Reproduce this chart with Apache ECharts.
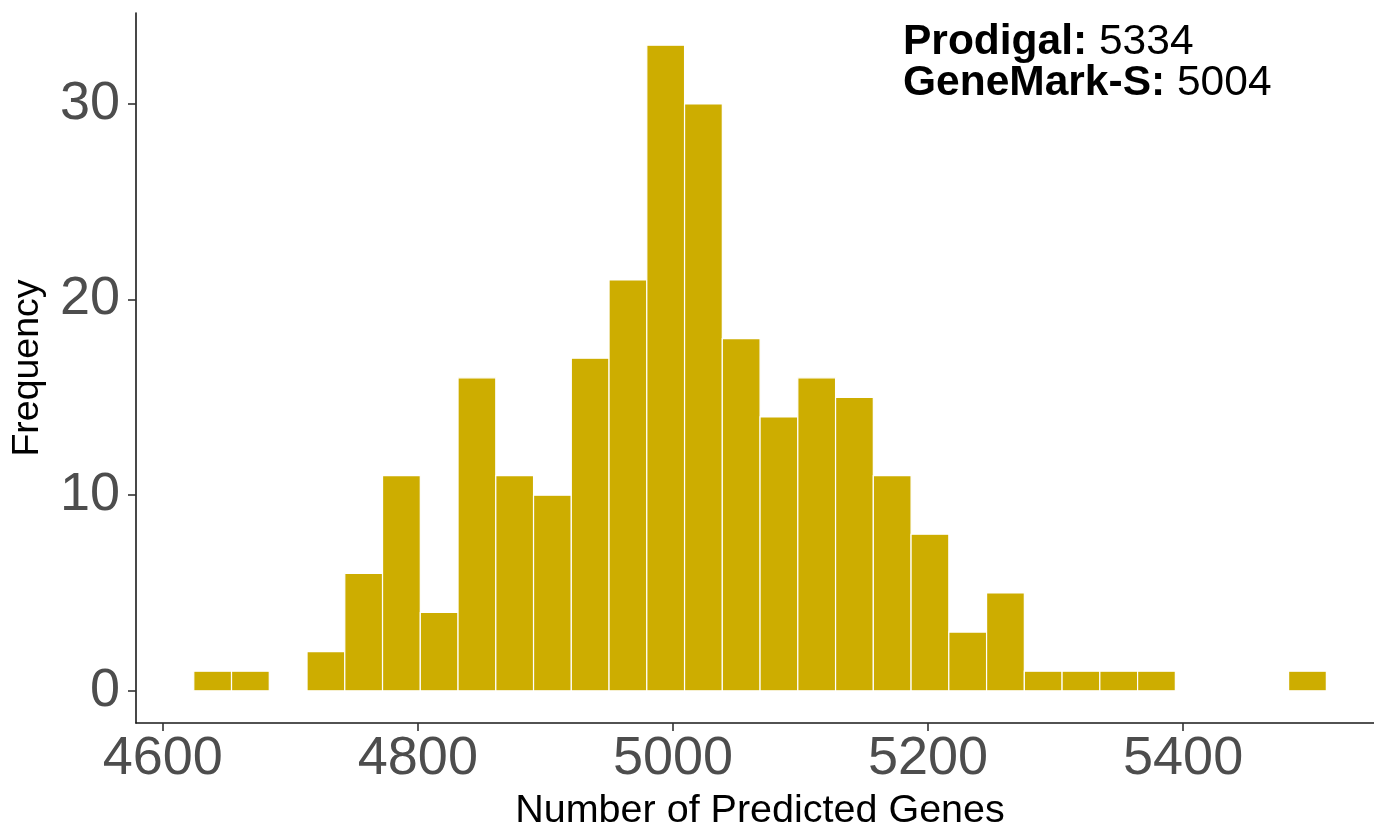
<!DOCTYPE html>
<html>
<head>
<meta charset="utf-8">
<script src="https://cdn.jsdelivr.net/npm/echarts@6/dist/echarts.min.js"></script>
<style>
html,body{margin:0;padding:0;background:#fff;}
#chart{width:1374px;height:828px;}
</style>
</head>
<body>
<div id="chart"></div>
<script>
// Histogram data (30 bins)
const binStart = 4624.3;
const binWidth = 29.6;
const counts = [1, 1, 0, 2, 6, 11, 4, 16, 11, 10, 17, 21, 33, 30, 18, 14, 16, 15, 11, 8, 3, 5, 1, 1, 1, 1, 0, 0, 0, 1];
const xTicks = [4600, 4800, 5000, 5200, 5400];
const yTicks = [0, 10, 20, 30];
const xTitle = 'Number of Predicted Genes';
const yTitle = 'Frequency';
const notes = [['Prodigal:', '5334'], ['GeneMark-S:', '5004']];

const barData = counts.map((c, i) => [binStart + i * binWidth, binStart + (i + 1) * binWidth, c]).filter(d => d[2] > 0);

const chart = echarts.init(document.getElementById('chart'));
const axisLine = {show: true, onZero: false, lineStyle: {color: '#1a1a1a', width: 1.6}};
const font = 'Liberation Sans, Arial, sans-serif';
chart.setOption({
  animation: false,
  backgroundColor: '#fff',
  grid: {left: 136, right: -10, top: 13, bottom: 105, containLabel: false, outerBoundsMode: 'none'},
  xAxis: {
    type: 'value', min: 4579, max: 5557.5,
    axisLine: axisLine,
    axisTick: {show: true, length: 8, lineStyle: {color: '#333', width: 1.6}, customValues: xTicks},
    axisLabel: {customValues: xTicks, formatter: v => String(v), fontFamily: font, fontSize: 54, color: '#4d4d4d', margin: 9},
    splitLine: {show: false},
    name: xTitle, nameLocation: 'middle', nameGap: 67,
    nameTextStyle: {fontFamily: font, fontSize: 39.5, color: '#000'}
  },
  yAxis: {
    type: 'value', min: -1.65, max: 34.65,
    axisLine: axisLine,
    axisTick: {show: true, length: 8, lineStyle: {color: '#333', width: 1.6}, customValues: yTicks},
    axisLabel: {customValues: yTicks, formatter: v => String(v), fontFamily: font, fontSize: 54, color: '#4d4d4d', margin: 16},
    splitLine: {show: false},
    name: yTitle, nameLocation: 'middle', nameGap: 89, nameRotate: 90,
    nameTextStyle: {fontFamily: font, fontSize: 37.5, color: '#000'}
  },
  series: [{
    type: 'custom',
    data: barData,
    encode: {x: [0, 1], y: 2},
    renderItem: function (params, api) {
      const p0 = api.coord([api.value(0), api.value(2)]);
      const p1 = api.coord([api.value(1), 0]);
      return {
        type: 'rect',
        shape: {x: p0[0], y: p0[1], width: p1[0] - p0[0], height: p1[1] - p0[1]},
        style: {fill: '#CDAD00', stroke: '#ffffff', lineWidth: 1.2}
      };
    }
  }],
  graphic: [{
    type: 'text', left: 903, top: 21,
    style: {
      text: notes.map(n => '{b|' + n[0] + '}{r|\u00a0' + n[1] + '}').join('\n'),
      rich: {
        b: {fontFamily: font, fontWeight: 'bold', fontSize: 42.5, lineHeight: 41, fill: '#000'},
        r: {fontFamily: font, fontSize: 42.5, lineHeight: 41, fill: '#000'}
      }
    }
  }]
});
</script>
</body>
</html>
